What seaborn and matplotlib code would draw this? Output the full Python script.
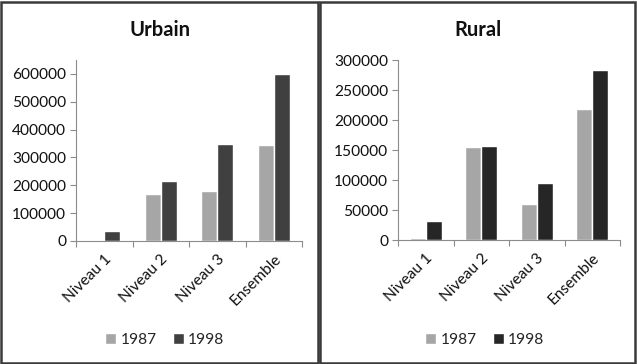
import matplotlib
matplotlib.use("Agg")
import matplotlib.pyplot as plt
from matplotlib.patches import Rectangle
import seaborn as sns
import pandas as pd

categories = ["Niveau 1", "Niveau 2", "Niveau 3", "Ensemble"]
years = ["1987", "1998"]
urbain_1987 = [0, 168000, 178000, 346000]
urbain_1998 = [36000, 216000, 350000, 600000]
rural_1987 = [3000, 155500, 60700, 219000]
rural_1998 = [31000, 157000, 95000, 283000]

sns.set_theme(style="ticks")
plt.rcParams['font.family'] = ['Lato', 'DejaVu Sans']

W, H = 637, 364
fig = plt.figure(figsize=(W / 100, H / 100), dpi=100)

def px(x0, y0, x1, y1):
    return [x0 / W, 1 - y1 / H, (x1 - x0) / W, (y1 - y0) / H]

def make_df(a, b):
    return pd.DataFrame({
        "cat": categories * 2,
        "year": [years[0]] * 4 + [years[1]] * 4,
        "val": list(a) + list(b),
    })

panels = [
    dict(title="Urbain", df=make_df(urbain_1987, urbain_1998), pos=px(76, 60, 302, 241),
         colors=["#a6a6a6", "#404040"], ylim=650000, ticks=[0, 100000, 200000, 300000, 400000, 500000, 600000],
         tx=160, lx=165),
    dict(title="Rural", df=make_df(rural_1987, rural_1998), pos=px(398, 60, 620, 240),
         colors=["#a6a6a6", "#262626"], ylim=300000, ticks=[0, 50000, 100000, 150000, 200000, 250000, 300000],
         tx=478, lx=485),
]

FS = 11.2
for p in panels:
    ax = fig.add_axes(p["pos"])
    sns.barplot(data=p["df"], x="cat", y="val", hue="year", palette=p["colors"],
                width=0.57, ax=ax, saturation=1, legend=True)
    ax.set_ylim(0, p["ylim"])
    ax.set_xlim(-0.5, 3.5)
    ax.set_yticks(p["ticks"])
    ax.set_yticklabels([str(t) for t in p["ticks"]], fontsize=FS, color="#111111")
    ax.set_xlabel("")
    ax.set_ylabel("")
    ax.set_xticks(range(4))
    ax.set_xticklabels(categories, rotation=45, ha="right", rotation_mode="anchor",
                       fontsize=FS, color="#111111")
    ax.tick_params(axis="x", which="major", length=0, pad=8)
    ax.set_xticks([-0.5, 0.5, 1.5, 2.5, 3.5], minor=True)
    ax.tick_params(axis="x", which="minor", length=4, color="#8c8c8c", width=0.8)
    ax.tick_params(axis="y", length=4, color="#8c8c8c", width=0.8, pad=3)
    for s in ["top", "right"]:
        ax.spines[s].set_visible(False)
    for s in ["left", "bottom"]:
        ax.spines[s].set_color("#8c8c8c")
        ax.spines[s].set_linewidth(0.8)
    handles, labels = ax.get_legend_handles_labels()
    ax.get_legend().remove()
    fig.legend(handles, labels, loc="center", bbox_to_anchor=(p["lx"] / W, 1 - 340 / H),
               ncol=2, frameon=False, fontsize=FS, handlelength=0.7, handleheight=0.7,
               handletextpad=0.3, columnspacing=1.0)
    fig.text(p["tx"] / W, 1 - 30 / H, p["title"], ha="center", va="center",
             fontsize=14.5, fontweight="bold", color="#111111")

# panel frames
for (x0, x1) in [(1, 318), (320, 635)]:
    fig.patches.append(Rectangle((x0 / W, 1.5 / H), (x1 - x0) / W, (H - 3.5) / H,
                                 transform=fig.transFigure, fill=False,
                                 edgecolor="#3a3a3a", linewidth=1.8))

fig.savefig("out.png", dpi=100)
